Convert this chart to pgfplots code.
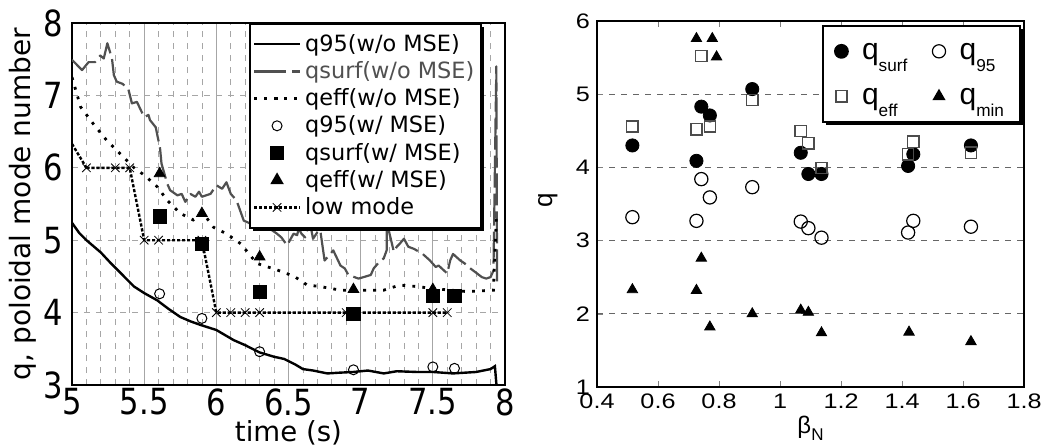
\documentclass[border=0pt]{standalone}
\usepackage{fontspec}
\setmainfont{DejaVu Sans}
\newfontfamily\lfont{DejaVu Sans}
\newfontfamily\ltick[FakeStretch=0.85]{DejaVu Sans}
\newfontfamily\rfont{Liberation Sans}
\newfontfamily\rtick[FakeStretch=1.2]{Liberation Sans}
\usepackage{pgfplots}
\pgfplotsset{compat=1.18}
\usepackage{pgfplotstable}
\usetikzlibrary{shadows}
\definecolor{sgray}{RGB}{80,80,80}
\makeatletter
\tikzset{nopre/.code={\let\tikz@preactions\pgfutil@empty}}
\makeatother

\pgfplotstableread{
t q
5.0 5.24
5.05 5.1
5.1 5.0
5.2 4.83
5.27 4.68
5.35 4.52
5.43 4.36
5.5 4.27
5.59 4.17
5.67 4.05
5.75 3.94
5.82 3.88
5.89 3.83
6.0 3.76
6.06 3.69
6.12 3.62
6.2 3.55
6.3 3.45
6.4 3.39
6.47 3.36
6.55 3.28
6.6 3.22
6.67 3.2
6.77 3.16
6.85 3.17
6.95 3.18
7.05 3.2
7.16 3.16
7.25 3.19
7.39 3.18
7.5 3.18
7.64 3.16
7.72 3.17
7.8 3.18
7.9 3.22
7.93 3.26
7.945 2.9
}\qninetyfive

\pgfplotstableread{
t q
5.0 7.49
5.035 7.42
5.07 7.35
5.115 7.46
5.16 7.46
5.196 7.55
5.22 7.51
5.245 7.72
5.277 7.51
5.29 7.28
5.31 7.19
5.35 7.16
5.39 7.09
5.415 6.89
5.45 6.91
5.5 6.70
5.53 6.73
5.54 6.66
5.58 6.56
5.61 6.27
5.62 6.06
5.66 5.78
5.68 5.69
5.73 5.62
5.76 5.64
5.785 5.53
5.82 5.64
5.855 5.60
5.88 5.67
5.90 5.60
5.96 5.64
6.00 5.76
6.04 5.71
6.07 5.80
6.10 5.64
6.14 5.55
6.165 5.41
6.19 5.27
6.26 5.21
6.30 5.14
6.33 5.18
6.37 5.16
6.42 5.09
6.45 5.04
6.49 4.93
6.51 5.00
6.535 5.09
6.56 5.07
6.57 5.16
6.59 5.09
6.615 5.04
6.63 5.14
6.65 5.23
6.67 5.02
6.70 5.11
6.72 5.14
6.73 5.00
6.75 4.72
6.79 4.81
6.81 4.86
6.86 4.65
6.89 4.61
6.915 4.52
6.985 4.47
7.02 4.49
7.07 4.52
7.09 4.61
7.12 4.68
7.16 4.75
7.18 4.86
7.18 5.27
7.20 5.09
7.23 4.84
7.25 4.91
7.27 4.95
7.30 5.02
7.33 4.91
7.37 4.88
7.43 4.81
7.48 4.72
7.52 4.63
7.54 4.65
7.60 4.54
7.62 4.72
7.64 4.81
7.69 4.72
7.72 4.68
7.76 4.61
7.84 4.49
7.87 4.47
7.90 4.49
7.92 4.58
7.94 7.4
7.945 4.4
}\qsurfline

\pgfplotstableread{
t q
5.0 7.25
5.06 6.84
5.15 6.6
5.24 6.38
5.33 6.2
5.43 6.0
5.5 5.9
5.59 5.74
5.66 5.55
5.75 5.37
5.84 5.28
5.91 5.37
5.98 5.18
6.07 5.09
6.17 4.95
6.28 4.68
6.42 4.59
6.54 4.5
6.63 4.38
6.72 4.36
6.86 4.31
7.0 4.31
7.16 4.31
7.27 4.38
7.39 4.36
7.51 4.33
7.74 4.29
7.92 4.31
7.94 5.3
}\qeffline

\pgfplotstableread{
t q
5.1 6.0
5.3 6.0
5.4 6.0
5.5 5.0
5.6 5.0
5.9 5.0
6.0 4.0
6.1 4.0
6.2 4.0
6.3 4.0
6.9 4.0
7.5 4.0
7.6 4.0
}\lowmode

\pgfplotstableread{
t a b c
5.607 4.26 5.33 5.92
5.9 3.92 4.95 5.37
6.3 3.46 4.29 4.77
6.95 3.21 3.98 4.32
7.5 3.25 4.23 4.32
7.65 3.23 4.23 nan
}\mse

\pgfplotstableread{
b surf eff nf
0.516 4.30 4.56 3.32
0.726 4.09 4.52 3.27
0.742 4.83 5.52 3.84
0.770 4.71 4.56 3.59
0.909 5.07 4.92 3.73
1.068 4.20 4.50 3.26
1.093 3.91 4.33 3.17
1.136 3.91 3.99 3.04
1.420 4.02 4.18 3.11
1.437 4.18 4.35 3.27
1.626 4.30 4.20 3.19
}\rdata

\pgfplotstableread{
b q
0.516 2.33
0.726 2.32
0.742 2.76
0.770 1.82
0.909 2.00
1.068 2.05
1.093 2.02
1.136 1.74
1.423 1.75
1.626 1.62
0.726 5.76
0.778 5.76
0.792 5.51
}\qmin

\newcommand{\sub}[1]{\raisebox{-0.75ex}{\fontsize{8.6}{8.6}\selectfont #1}}

\begin{document}
\begin{tikzpicture}
\useasboundingbox (0,0) rectangle (521pt,223pt);
\begin{axis}[
  at={(36pt,30.5pt)}, anchor=south west, scale only axis,
  width=216.5pt, height=181pt,
  xmin=5, xmax=8, ymin=3, ymax=8,
  xtick={5,5.5,6,6.5,7,7.5,8}, ytick={3,4,5,6,7,8},
  minor x tick num=4,
  major tick length=0pt, minor tick length=0pt,
  xmajorgrids, xminorgrids, ymajorgrids,
  major x grid style={gray!70, line width=0.4pt},
  minor x grid style={gray!70, dashed, line width=0.4pt},
  major y grid style={gray!70, dashed, line width=0.4pt},
  axis line style={line width=0.6pt},
  /pgf/number format/assume math mode=true,
  ticklabel style={font=\ltick\fontsize{18}{18}\selectfont},
  xticklabel style={yshift=0pt, inner ysep=1.5pt},
  yticklabel style={xshift=-1pt},
  xlabel={time (s)}, ylabel={q, poloidal mode number},
  xlabel style={font=\lfont\fontsize{13.8}{13.8}\selectfont, at={(axis description cs:0.5,-0.131)}, anchor=center, inner sep=0pt},
  ylabel style={font=\lfont\fontsize{14}{14}\selectfont, at={(axis description cs:-0.113,0.5)}, anchor=center},
  legend style={at={(axis description cs:0.409,1)}, anchor=north west,
    font=\lfont\fontsize{11.2}{11.2}\selectfont, draw=black, line width=0.8pt, fill=white,
    drop shadow={shadow xshift=1.6pt, shadow yshift=-1.6pt, fill=black, opacity=1},
    inner xsep=1.5pt, inner ysep=3.2pt, row sep=-0.4pt,
    cells={anchor=west, inner ysep=1pt, text height=8.5pt, text depth=2.5pt}},
  legend cell align=left,
  legend image code/.code={\draw[nopre,mark repeat=2,mark phase=2] plot coordinates {(0cm,0cm) (0.4cm,0cm) (0.8cm,0cm)};},
]
\addplot[black, line width=1.2pt, no marks] table[x=t,y=q] {\qninetyfive};
\addlegendentry{q95(w/o MSE)}
\addplot[sgray, line width=1.1pt, no marks, dash pattern=on 16pt off 3pt, line join=round] table[x=t,y=q] {\qsurfline};
\addlegendentry{\textcolor{sgray}{qsurf(w/o MSE)}}
\addplot[black, line width=1.4pt, no marks, dash pattern=on 1.4pt off 3.6pt] table[x=t,y=q] {\qeffline};
\addlegendentry{qeff(w/o MSE)}
\addplot[black, line width=1.2pt, dash pattern=on 1.6pt off 0.9pt, mark=x, mark size=3pt, mark options={solid, line width=0.4pt}, forget plot] table[x=t,y=q] {\lowmode};
\addplot[black, line width=1.2pt, dash pattern=on 1.6pt off 0.9pt, no marks, forget plot] coordinates {(5.0,6.33) (5.1,6.0)};
\addplot[only marks, mark=o, mark size=2.5pt, mark options={fill=white, draw=black, line width=0.5pt},
  legend image code/.code={\draw[nopre,mark repeat=2,mark phase=2] plot coordinates {(0cm,0cm) (0.4cm,0cm) (0.8cm,0cm)};}] table[x=t,y=a] {\mse};
\addlegendentry{q95(w/ MSE)}
\addplot[only marks, mark=square*, mark size=3.3pt, mark options={fill=black, draw=black},
  legend image code/.code={\draw[nopre,mark repeat=2,mark phase=2] plot coordinates {(0cm,0cm) (0.4cm,0cm) (0.8cm,0cm)};}] table[x=t,y=b] {\mse};
\addlegendentry{qsurf(w/ MSE)}
\addplot[only marks, mark=triangle*, mark size=3.1pt, mark options={fill=black, draw=black},
  legend image code/.code={\draw[nopre,mark repeat=2,mark phase=2] plot coordinates {(0cm,0cm) (0.4cm,0cm) (0.8cm,0cm)};}] table[x=t,y=c] {\mse};
\addlegendentry{qeff(w/ MSE)}
\addlegendimage{black, line width=1.2pt, dash pattern=on 1.6pt off 0.9pt, mark=x, mark size=3pt, mark options={solid, line width=0.4pt}}
\addlegendentry{low mode}
\end{axis}

\begin{axis}[
  at={(298.5pt,29.5pt)}, anchor=south west, scale only axis,
  width=213.5pt, height=183pt,
  xmin=0.4, xmax=1.8, ymin=1, ymax=6,
  xtick={0.4,0.6,0.8,1,1.2,1.4,1.6,1.8}, ytick={1,2,3,4,5,6},
  xtick pos=both, ytick pos=left,
  tick align=inside, major tick length=3pt,
  ymajorgrids, major y grid style={gray!80!black, dashed, line width=0.4pt},
  axis line style={line width=0.8pt},
  /pgf/number format/assume math mode=true,
  ticklabel style={font=\rtick\fontsize{10.5}{10.5}\selectfont},
  xlabel={β\raisebox{-0.6ex}{\fontsize{8.5}{8.5}\selectfont N}}, ylabel={q},
  xlabel style={font=\rfont\fontsize{12}{12}\selectfont, at={(axis description cs:0.5,-0.113)}, anchor=center},
  ylabel style={font=\rfont\fontsize{13}{13}\selectfont, at={(axis description cs:-0.115,0.51)}, anchor=center},
  legend columns=2,
  legend style={at={(axis description cs:0.527,0.989)}, anchor=north west,
    font=\rfont\fontsize{15}{15}\selectfont, draw=black, line width=0.8pt, fill=white,
    drop shadow={shadow xshift=1.6pt, shadow yshift=-1.6pt, fill=black, opacity=1},
    inner xsep=6pt, inner ysep=5pt, row sep=7pt,
    cells={anchor=west, inner sep=0.5pt, text height=10pt, text depth=5pt},
    /tikz/every odd column/.append style={column sep=5pt},
    /tikz/every even column/.append style={column sep=10.5pt}},
  legend image code/.code={\draw[nopre,mark repeat=2,mark phase=2] plot coordinates {(0cm,0cm) (0.2cm,0cm) (0.4cm,0cm)};},
]
\addplot[only marks, mark=*, mark size=3.3pt, mark options={fill=black, draw=black},
  legend image code/.code={\draw[nopre,mark repeat=2,mark phase=2] plot coordinates {(0cm,0cm) (0.2cm,0cm) (0.4cm,0cm)};}] table[x=b,y=surf] {\rdata};
\addlegendentry{q\sub{surf}}
\addplot[only marks, mark=o, mark size=3.3pt, mark options={fill=white, draw=black, line width=0.6pt},
  legend image code/.code={\draw[nopre,mark repeat=2,mark phase=2] plot coordinates {(0cm,0cm) (0.2cm,0cm) (0.4cm,0cm)};}] table[x=b,y=nf] {\rdata};
\addlegendentry{q\sub{95}}
\addplot[only marks, mark=square, mark size=2.8pt, mark options={fill=white, draw=black!70, line width=0.7pt},
  legend image code/.code={\draw[nopre,mark repeat=2,mark phase=2] plot coordinates {(0cm,0cm) (0.2cm,0cm) (0.4cm,0cm)};}] table[x=b,y=eff] {\rdata};
\addlegendentry{q\sub{eff}}
\addplot[only marks, mark=triangle*, mark size=3pt, mark options={fill=black, draw=black},
  legend image code/.code={\draw[nopre,mark repeat=2,mark phase=2] plot coordinates {(0cm,0cm) (0.2cm,0cm) (0.4cm,0cm)};}] table[x=b,y=q] {\qmin};
\addlegendentry{q\sub{min}}
\end{axis}
\end{tikzpicture}
\end{document}
